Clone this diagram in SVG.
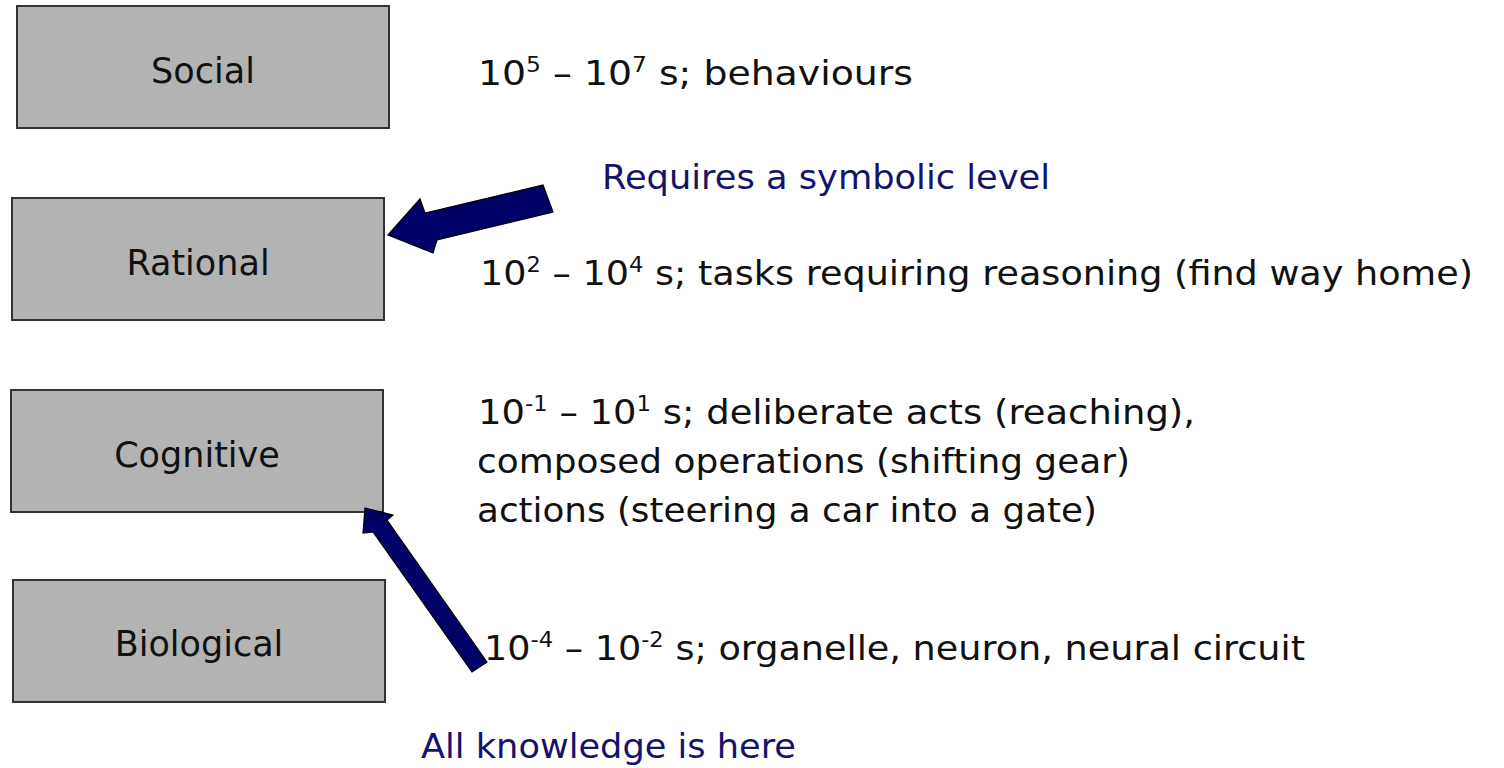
<svg xmlns="http://www.w3.org/2000/svg" width="1504" height="768" viewBox="0 0 1504 768">
  <style>
    .box { fill: #b3b3b3; stroke: #333333; stroke-width: 2; }
    .label { font-family: "DejaVu Sans", "Liberation Sans", sans-serif; font-size: 35px; fill: #111111; text-anchor: middle; }
    .desc { font-family: "DejaVu Sans", "Liberation Sans", sans-serif; font-size: 34px; fill: #111111; }
    .note { font-family: "DejaVu Sans", "Liberation Sans", sans-serif; font-size: 34px; fill: #13136c; }
    .sup { font-size: 21px; }
    .arrow { fill: #000066; stroke: #000000; stroke-width: 1.2; stroke-linejoin: miter; }
  </style>
  <rect width="1504" height="768" fill="#ffffff"/>

  <!-- levels -->
  <g id="social">
    <rect class="box" x="17" y="6" width="372" height="122"/>
    <text class="label" x="203" y="83">Social</text>
  </g>
  <g id="rational">
    <rect class="box" x="12" y="198" width="372" height="122"/>
    <text class="label" x="198" y="275">Rational</text>
  </g>
  <g id="cognitive">
    <rect class="box" x="11" y="390" width="372" height="122"/>
    <text class="label" x="197" y="467">Cognitive</text>
  </g>
  <g id="biological">
    <rect class="box" x="13" y="580" width="372" height="122"/>
    <text class="label" x="199" y="656">Biological</text>
  </g>

  <!-- time scales -->
  <g id="time-social">
    <text class="desc" x="478" y="85" textLength="435" lengthAdjust="spacingAndGlyphs">10<tspan class="sup" dy="-13">5</tspan><tspan dy="13"> – 10</tspan><tspan class="sup" dy="-13">7</tspan><tspan dy="13"> s; behaviours</tspan></text>
  </g>
  <g id="time-rational">
    <text class="desc" x="480" y="285" textLength="993" lengthAdjust="spacingAndGlyphs">10<tspan class="sup" dy="-13">2</tspan><tspan dy="13"> – 10</tspan><tspan class="sup" dy="-13">4</tspan><tspan dy="13"> s; tasks requiring reasoning (find way home)</tspan></text>
  </g>
  <g id="time-cognitive">
    <text class="desc" x="478" y="424" textLength="717" lengthAdjust="spacingAndGlyphs">10<tspan class="sup" dy="-13">-1</tspan><tspan dy="13"> – 10</tspan><tspan class="sup" dy="-13">1</tspan><tspan dy="13"> s; deliberate acts (reaching),</tspan></text>
    <text class="desc" x="477" y="473" textLength="653" lengthAdjust="spacingAndGlyphs">composed operations (shifting gear)</text>
    <text class="desc" x="477" y="522" textLength="620" lengthAdjust="spacingAndGlyphs">actions (steering a car into a gate)</text>
  </g>
  <g id="time-biological">
    <text class="desc" x="484" y="660" textLength="821" lengthAdjust="spacingAndGlyphs">10<tspan class="sup" dy="-13">-4</tspan><tspan dy="13"> – 10</tspan><tspan class="sup" dy="-13">-2</tspan><tspan dy="13"> s; organelle, neuron, neural circuit</tspan></text>
  </g>

  <!-- annotations -->
  <g id="note-symbolic">
    <text class="note" x="602" y="189" textLength="448" lengthAdjust="spacingAndGlyphs">Requires a symbolic level</text>
  </g>
  <g id="note-knowledge">
    <text class="note" x="421" y="758" textLength="375" lengthAdjust="spacingAndGlyphs">All knowledge is here</text>
  </g>

  <!-- block arrows -->
  <g id="connectors">
    <polygon class="arrow" points="388,235 420,199 425,213 543,185 553,212 437,240 433,253"/>
    <polygon class="arrow" points="365,508 393,515 387,520 487,662 472,672 373,532 363,533"/>
  </g>
</svg>
